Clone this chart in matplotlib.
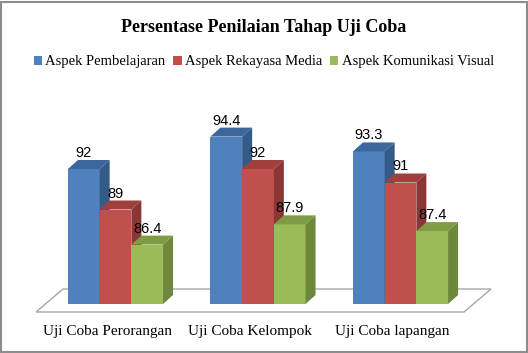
import matplotlib
matplotlib.use("Agg")
import matplotlib.pyplot as plt
from matplotlib.patches import Polygon, Rectangle

title = "Persentase Penilaian Tahap Uji Coba"
categories = ["Uji Coba Perorangan", "Uji Coba Kelompok", "Uji Coba lapangan"]
series = ["Aspek Pembelajaran", "Aspek Rekayasa Media", "Aspek Komunikasi Visual"]
pembelajaran = [92, 94.4, 93.3]
rekayasa = [89, 92, 91]
komunikasi = [86.4, 87.9, 87.4]
values = [pembelajaran, rekayasa, komunikasi]
value_labels = [["92", "94.4", "93.3"], ["89", "92", "91"], ["86.4", "87.9", "87.4"]]

front = ["#4F81BD", "#C0504D", "#9BBB59"]
top = ["#3C679C", "#A0403D", "#7F9C45"]
side = ["#345A88", "#8A3634", "#6D883A"]

W, H = 528, 353
fig = plt.figure(figsize=(W / 100, H / 100), dpi=100)
ax = fig.add_axes([0, 0, 1, 1])
ax.set_axis_off()

# pixel mapping: group spacing 142.5 px, 13.5 px per unit, baseline 82 at y=304
sx, sy = 142.5, 13.5
x0px, base, basepx = 115.5, 82.0, 304.0
ax.set_xlim(-x0px / sx, (W - x0px) / sx)
ax.set_ylim(base - (H - basepx) / sy, base + basepx / sy)

bw = 31.7 / sx
ddx, ddy = 10 / sx, 9 / sy

# floor
fl_front, fl_back = base - 8 / sy, base + 15 / sy
fdx = 27 / sx
fl_l, fl_r = -0.558, 2.446
ax.add_patch(Polygon([(fl_l, fl_front), (fl_r, fl_front), (fl_r + fdx, fl_back), (fl_l + fdx, fl_back)],
                     closed=True, facecolor="white", edgecolor="#A6A6A6", lw=1.0, zorder=1))

for g in range(len(categories)):
    for s in range(len(series)):
        v = values[s][g]
        xl = g + (s - 1.5) * bw
        xr = xl + bw
        ax.bar(xl, v - base, width=bw, bottom=base, align="edge", color=front[s], lw=0, zorder=2)
        ax.add_patch(Polygon([(xl, v), (xr, v), (xr + ddx, v + ddy), (xl + ddx, v + ddy)],
                             closed=True, facecolor=top[s], edgecolor="none", zorder=2))
        ax.add_patch(Polygon([(xr, base), (xr + ddx, base + ddy), (xr + ddx, v + ddy), (xr, v)],
                             closed=True, facecolor=side[s], edgecolor="none", zorder=2))
        ax.text(xl + bw / 2, v + 12 / sy, value_labels[s][g], ha="center", va="baseline",
                fontsize=10.5, family="Liberation Sans", color="black", zorder=3)
    ax.text(g - 8 / sx, base - 27 / sy, categories[g], ha="center", va="center",
            fontsize=11, family="Liberation Serif", color="black")

handles = [Rectangle((0, 0), 1, 1, facecolor=front[i], edgecolor="none") for i in range(3)]
fig.legend(handles, series, loc="center", bbox_to_anchor=(264 / W, 1 - 62 / H), ncol=3, frameon=False,
           prop={"family": "Liberation Serif", "size": 10.5}, handlelength=0.55, handleheight=0.55,
           handletextpad=0.25, columnspacing=0.55, borderpad=0)

fig.text(0.5, 1 - 27 / H, title, ha="center", va="center", fontsize=13, fontweight="bold",
         family="Liberation Serif")

fig.patches.append(Rectangle((1 / W, 1 / H), (W - 2.5) / W, (H - 2.5) / H, transform=fig.transFigure,
                             fill=False, edgecolor="#8C8C8C", lw=1.5))

fig.savefig("out.png", dpi=100)
